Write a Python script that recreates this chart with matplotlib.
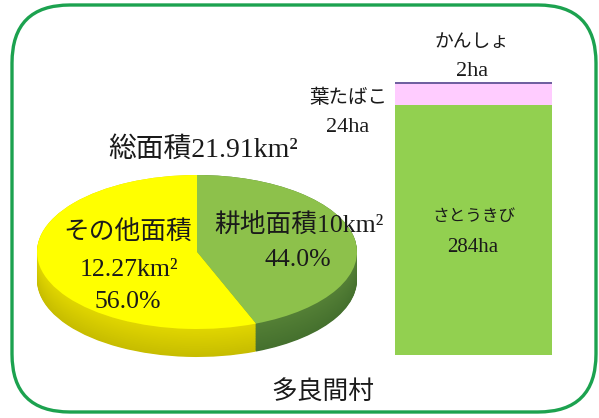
import numpy as np
import matplotlib
matplotlib.use("Agg")
import matplotlib.pyplot as plt
from matplotlib.patches import FancyBboxPatch

plt.rcParams['font.family'] = ['Liberation Serif', 'Noto Sans CJK JP', 'DejaVu Sans']

# ---- data ----
pie_labels = ["耕地面積", "その他面積"]
pie_values = [9.64, 12.27]          # km2
pie_pct = ["44.0%", "56.0%"]
total_area = "21.91"

bar_labels = ["さとうきび", "葉たばこ", "かんしょ"]
bar_values = [284, 24, 2]           # ha
village = "多良間村"

W, H = 599, 418
fig = plt.figure(figsize=(W / 100, H / 100), dpi=100)
fig.patch.set_facecolor("white")

# ---- frame ----
bg = fig.add_axes([0, 0, 1, 1])
bg.set_xlim(0, W)
bg.set_ylim(H, 0)
bg.axis("off")
bg.add_patch(FancyBboxPatch((12, 5), 584, 407,
                            boxstyle="round,pad=0,rounding_size=58",
                            fill=False, edgecolor="#1ca24f", linewidth=2.4))

# ---- 3D-looking pie ----
cx, cy, a, b, depth = 197, 252, 160, 77, 28
ytop, ybot = 1.05, -1.0 - depth / b - 0.08
pax = fig.add_axes([(cx - a) / W, (H - (cy - ytop * b + (ytop - ybot) * b)) / H,
                    2 * a / W, (ytop - ybot) * b / H])
top_cols = ["#8dc14b", "#ffff00"]
nlayers = 40
for i, k in enumerate(np.linspace(depth / b, 0.0, nlayers)):
    t = i / (nlayers - 1)
    g = (0.27 + 0.06 * t, 0.44 + 0.06 * t, 0.18 + 0.03 * t)
    y = (0.78 + 0.10 * t, 0.74 + 0.10 * t, 0.0)
    pax.pie(pie_values, colors=[g, y], startangle=90, counterclock=False,
            center=(0, -k), radius=1, wedgeprops=dict(linewidth=0))
pax.pie(pie_values, colors=top_cols, startangle=90, counterclock=False,
        center=(0, 0), radius=1, wedgeprops=dict(linewidth=0))
pax.set_aspect("auto")
pax.set_xlim(-1, 1)
pax.set_ylim(ybot, ytop)
pax.axis("off")

# ---- stacked bar ----
bx0, bx1, by_top, by_bot = 395, 552, 82, 355
bax = fig.add_axes([bx0 / W, (H - by_bot) / H, (bx1 - bx0) / W, (by_bot - by_top) / H])
bar_cols = ["#92d050", "#ffccff", "#7060a0"]
bottom = 0
for v, c in zip(bar_values, bar_cols):
    bax.bar([0], [v], bottom=bottom, width=1.0, color=c, linewidth=0)
    bottom += v
bax.set_xlim(-0.5, 0.5)
bax.set_ylim(0, sum(bar_values))
bax.axis("off")

# ---- texts ----
tc = "#1a1a1a"
def T(x, y, s, size):
    fig.text(x / W, 1 - y / H, s, ha="center", va="center", fontsize=size, color=tc)

T(203, 150, "総面積" + total_area + "km²", 20)
T(128, 233, pie_labels[1], 18.5)
T(129, 270, f"{pie_values[1]:.2f}km²", 18.5)
T(128, 302, pie_pct[1], 18.5)
T(299, 226, pie_labels[0] + "10km²", 18.5)
T(298, 260, pie_pct[0], 18.5)

T(474, 217, bar_labels[0], 12)
T(473, 247, f"{bar_values[0]}ha", 15)
T(348, 98, bar_labels[1], 14)
T(348, 128, f"{bar_values[1]}ha", 16)
T(472, 43, bar_labels[2], 13.5)
T(472, 72, f"{bar_values[2]}ha", 16)

T(323, 392, village, 18.5)

fig.savefig("out.png", dpi=100, facecolor="white")
